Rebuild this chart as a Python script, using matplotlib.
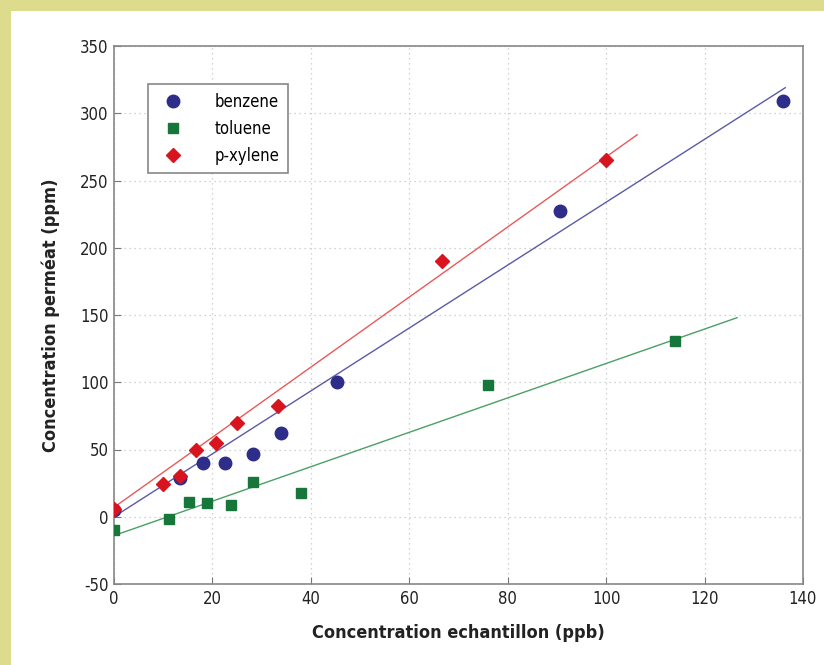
import matplotlib
matplotlib.use('Agg')
import matplotlib.pyplot as plt

# Data
benzeneX = [0, 13.4, 18.1, 22.6, 28.3, 33.9, 45.3, 90.7, 136.0]
benzeneY = [5, 29, 40, 40, 47, 62, 100, 227, 309]
tolueneX = [0, 11.2, 15.2, 18.9, 23.8, 28.3, 38.0, 76.0, 114.0]
tolueneY = [-10, -2, 11, 10, 9, 26, 18, 98, 131]
xyleneX = [0, 10.0, 13.4, 16.7, 20.7, 25.0, 33.3, 66.7, 100.0]
xyleneY = [6, 24, 30, 50, 55, 70, 82, 190, 265]

# Fitted lines, endpoints
benzeneFitX = [0, 136.4]
benzeneFitY = [0, 319]
tolueneFitX = [0, 126.6]
tolueneFitY = [-14, 148]
xyleneFitX = [0, 106.3]
xyleneFitY = [7, 284]

xTicks = [0, 20, 40, 60, 80, 100, 120, 140]
yTicks = [-50, 0, 50, 100, 150, 200, 250, 300, 350]

plt.rcParams['font.family'] = ['DejaVu Sans']
plt.rcParams['font.stretch'] = 'condensed'
plt.rcParams['axes.unicode_minus'] = False

fig = plt.figure(figsize=(8.24, 6.65), dpi=100)
fig.patch.set_facecolor('#dcdc8c')
# white panel on the yellow background
fig.patches.append(plt.Rectangle((11 / 824, 0), 1, 1 - 11 / 665, transform=fig.transFigure,
                                 facecolor='white', edgecolor='none', zorder=-10))

ax = fig.add_axes([114 / 824, 1 - 584 / 665, (803 - 114) / 824, (584 - 46) / 665])

ax.plot(benzeneFitX, benzeneFitY, color='#5a5aa8', linewidth=1.0, zorder=2)
ax.plot(xyleneFitX, xyleneFitY, color='#e85a5a', linewidth=1.0, zorder=2)
ax.plot(tolueneFitX, tolueneFitY, color='#4aa066', linewidth=1.0, zorder=2)

ax.plot(benzeneX, benzeneY, linestyle='none', marker='o', markersize=9,
        color='#2e2e8a', label='benzene', zorder=3)
ax.plot(tolueneX, tolueneY, linestyle='none', marker='s', markersize=7.5,
        color='#17763a', label='toluene', zorder=3)
ax.plot(xyleneX, xyleneY, linestyle='none', marker='D', markersize=7.5,
        color='#d8141e', label='p-xylene', zorder=4)

ax.set_xlim(0, 140)
ax.set_ylim(-50, 350)
ax.set_xticks(xTicks)
ax.set_yticks(yTicks)
ax.grid(True, linestyle=(0, (1, 3)), color='#c4c4c4', linewidth=0.9)
ax.tick_params(direction='in', length=5, color='#777777', labelsize=12, pad=4,
               labelcolor='#222222')
for spine in ax.spines.values():
    spine.set_color('#888888')
    spine.set_linewidth(1.2)

ax.set_xlabel('Concentration echantillon (ppb)', fontsize=13, labelpad=12,
              fontweight='bold', color='#222222')
ax.set_ylabel('Concentration perméat (ppm)', fontsize=13, labelpad=14,
              fontweight='bold', color='#222222')

leg = ax.legend(loc='upper left', bbox_to_anchor=(0.049, 0.929), fontsize=12,
                fancybox=False, framealpha=1, edgecolor='#888888',
                handletextpad=1.5, borderpad=0.5, labelspacing=0.55, borderaxespad=0)
leg.get_frame().set_linewidth(1.2)

fig.savefig('out.png', dpi=100, facecolor=fig.get_facecolor())
